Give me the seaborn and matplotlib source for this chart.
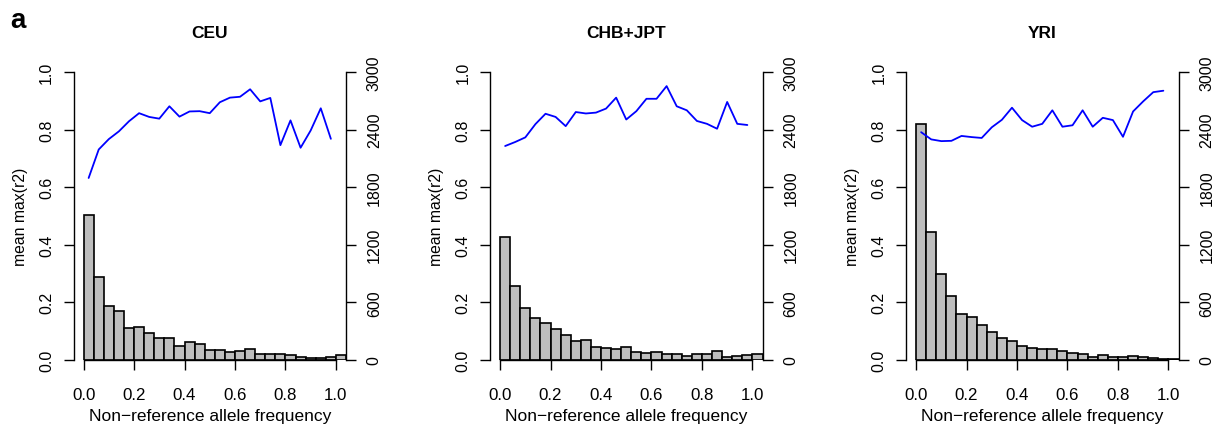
import numpy as np
import pandas as pd
import matplotlib
matplotlib.use("Agg")
import matplotlib.pyplot as plt
import seaborn as sns

# histogram bins: 26 bins of width 0.04
bin_edges = [round(0.04 * k, 2) for k in range(27)]

populations = ["CEU", "CHB+JPT", "YRI"]

# SNP counts per bin (right axis)
ceu_counts = [1512, 869, 563, 514, 330, 348, 278, 233, 233, 143, 184, 167, 104,
              104, 83, 94, 111, 63, 66, 63, 56, 35, 21, 24, 28, 56]
chb_counts = [1279, 775, 546, 435, 389, 327, 264, 198, 212, 132, 129, 115, 139,
              87, 73, 87, 63, 63, 45, 59, 66, 94, 35, 38, 52, 63]
yri_counts = [2461, 1338, 893, 671, 476, 445, 368, 289, 226, 202, 143, 122, 115,
              115, 97, 70, 63, 35, 52, 35, 28, 45, 28, 17, 10, 10]

# mean max(r2) per bin (left axis), first 25 bins
ceu_r2 = [0.632, 0.731, 0.767, 0.794, 0.829, 0.857, 0.844, 0.838, 0.881, 0.845,
          0.863, 0.864, 0.857, 0.895, 0.911, 0.914, 0.940, 0.898, 0.910, 0.746,
          0.832, 0.737, 0.797, 0.874, 0.768]
chb_r2 = [0.743, 0.757, 0.773, 0.819, 0.855, 0.844, 0.812, 0.861, 0.856, 0.859,
          0.873, 0.911, 0.835, 0.864, 0.907, 0.907, 0.951, 0.881, 0.867, 0.830,
          0.820, 0.803, 0.896, 0.820, 0.816]
yri_r2 = [0.791, 0.766, 0.760, 0.761, 0.778, 0.774, 0.771, 0.808, 0.834, 0.876,
          0.833, 0.810, 0.820, 0.867, 0.810, 0.815, 0.867, 0.810, 0.841, 0.833,
          0.775, 0.863, 0.898, 0.930, 0.935]

all_counts = [ceu_counts, chb_counts, yri_counts]
all_r2 = [ceu_r2, chb_r2, yri_r2]

x_ticks = [0.0, 0.2, 0.4, 0.6, 0.8, 1.0]
left_ticks = [0.0, 0.2, 0.4, 0.6, 0.8, 1.0]
right_ticks = [0, 600, 1200, 1800, 2400, 3000]

sns.set_style("ticks")
plt.rcParams["font.family"] = ["Liberation Sans", "DejaVu Sans"]
plt.rcParams["axes.linewidth"] = 1.0
for key in ["text.color", "axes.labelcolor", "xtick.color", "ytick.color", "axes.edgecolor"]:
    plt.rcParams[key] = "black"

W, H = 1220, 427
fig = plt.figure(figsize=(W / 100, H / 100), dpi=100)

lefts = [73.5, 490, 906]
width = 272.5
bottom_px, top_px = 361, 73
edges = np.array(bin_edges)
centers = (edges[:-1] + edges[1:]) / 2

for i, pop in enumerate(populations):
    ax = fig.add_axes([lefts[i] / W, 1 - bottom_px / H, width / W, (bottom_px - top_px) / H])
    ax2 = ax.twinx()

    df = pd.DataFrame({"freq": centers, "count": all_counts[i]})
    sns.histplot(data=df, x="freq", weights="count", bins=bin_edges, ax=ax2,
                 color="#bebebe", edgecolor="black", linewidth=1.2, alpha=1)

    dl = pd.DataFrame({"freq": centers[:len(all_r2[i])], "r2": all_r2[i]})
    sns.lineplot(data=dl, x="freq", y="r2", ax=ax, color="#0000ff", linewidth=1.3)

    ax.set_zorder(ax2.get_zorder() + 1)
    ax.patch.set_visible(False)

    ax.set_xlim(-0.04, 1.04)
    ax.set_ylim(0, 1)
    ax2.set_ylim(0, 3000)

    ax.set_xticks(x_ticks)
    ax.set_xticklabels([f"{t:.1f}" for t in x_ticks])
    ax.set_yticks(left_ticks)
    ax.set_yticklabels([f"{t:.1f}" for t in left_ticks], rotation=90, va="center")
    ax2.set_yticks(right_ticks)
    ax2.set_yticklabels([str(t) for t in right_ticks], rotation=90, va="center")

    for a in (ax, ax2):
        a.spines["top"].set_visible(False)
    ax.spines["right"].set_visible(False)
    ax2.spines["left"].set_visible(False)
    ax2.spines["bottom"].set_visible(False)
    ax.spines["left"].set_bounds(0, 1)
    ax.spines["bottom"].set_bounds(0, 1)
    ax2.spines["right"].set_bounds(0, 3000)

    ax.tick_params(axis="x", length=7, width=1, pad=12.5, labelsize=12.2)
    ax.tick_params(axis="y", length=7, width=1, pad=7, labelsize=11.5)
    ax2.tick_params(axis="y", length=7, width=1, pad=8, labelsize=11.5)

    ax.set_xlabel("Non\u2212reference allele frequency", fontsize=12.5, labelpad=4)
    ax.set_ylabel("mean max(r2)", fontsize=11.3, labelpad=8)
    ax2.set_ylabel("")
    ax.set_title(pop, fontsize=12.5, fontweight="bold", pad=25)

fig.text(10 / W, 1 - 28 / H, "a", fontsize=20, fontweight="bold", ha="left", va="baseline")

fig.savefig("out.png", dpi=100)
